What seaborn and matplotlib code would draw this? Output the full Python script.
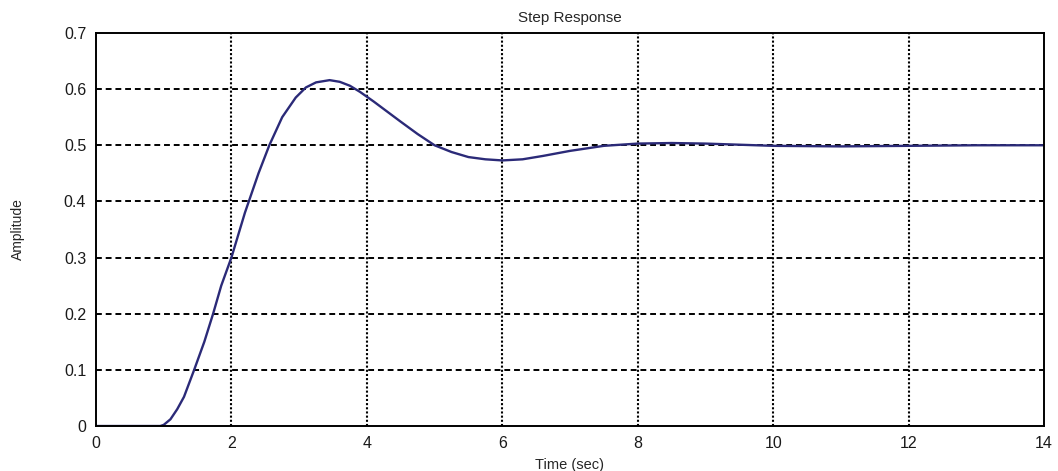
import numpy as np
import pandas as pd
import seaborn as sns
import matplotlib
matplotlib.use("Agg")
import matplotlib.pyplot as plt

# valores
tempo = [0, 0.95, 1.0, 1.1, 1.2, 1.3, 1.45, 1.6, 1.73, 1.85, 2.0, 2.2, 2.4, 2.56,
         2.75, 2.95, 3.1, 3.25, 3.45, 3.6, 3.75, 3.9, 4.1, 4.3, 4.5, 4.75, 5.0,
         5.25, 5.5, 5.75, 6.0, 6.3, 6.6, 7.0, 7.5, 8.0, 8.5, 9.0, 9.5, 10, 11,
         12, 13, 14]
amplitude = [0, 0, 0.002, 0.012, 0.03, 0.052, 0.1, 0.15, 0.2, 0.25, 0.3, 0.38,
             0.45, 0.5, 0.55, 0.585, 0.603, 0.612, 0.616, 0.613, 0.606, 0.595,
             0.578, 0.56, 0.542, 0.52, 0.5, 0.488, 0.479, 0.475, 0.473, 0.475,
             0.481, 0.49, 0.499, 0.503, 0.504, 0.503, 0.501, 0.499, 0.498,
             0.499, 0.5, 0.5]
xticks = [0, 2, 4, 6, 8, 10, 12, 14]
yticks = [0, 0.1, 0.2, 0.3, 0.4, 0.5, 0.6, 0.7]

df = pd.DataFrame({"Time": tempo, "Amplitude": amplitude})

sns.set_style("white")
plt.rcParams["font.family"] = ["Liberation Sans", "DejaVu Sans"]

fig = plt.figure(figsize=(10.58, 4.71), dpi=100)
ax = fig.add_axes([0.0907, 0.0955, 0.8961, 0.8345])

sns.lineplot(data=df, x="Time", y="Amplitude", color="#2b2a78", linewidth=1.7,
             ax=ax, sort=False)

ax.set_xlim(0, 14)
ax.set_ylim(0, 0.7)
ax.set_xticks(xticks)
ax.set_yticks(yticks)
ax.set_xticklabels([str(v) for v in xticks])
ax.set_yticklabels(["0" if v == 0 else f"{v:.1f}" for v in yticks])

# grade: verticais pontilhadas, horizontais tracejadas
for v in xticks[1:-1]:
    ax.axvline(v, color="black", linestyle=(0, (1, 1)), linewidth=1.5, zorder=0)
for v in yticks[1:-1]:
    ax.axhline(v, color="black", linestyle=(0, (3, 2)), linewidth=1.4, zorder=0)

for s in ax.spines.values():
    s.set_color("black")
    s.set_linewidth(1.4)
ax.tick_params(direction="in", length=4, color="black", labelsize=11.5,
               labelcolor="#1a1a1a", pad=7)

ax.set_title("Step Response", fontsize=11, pad=8)
ax.set_xlabel("Time (sec)", fontsize=10.5, labelpad=5)
ax.set_ylabel("Amplitude", fontsize=10, labelpad=28)

fig.savefig("out.png", dpi=100)
